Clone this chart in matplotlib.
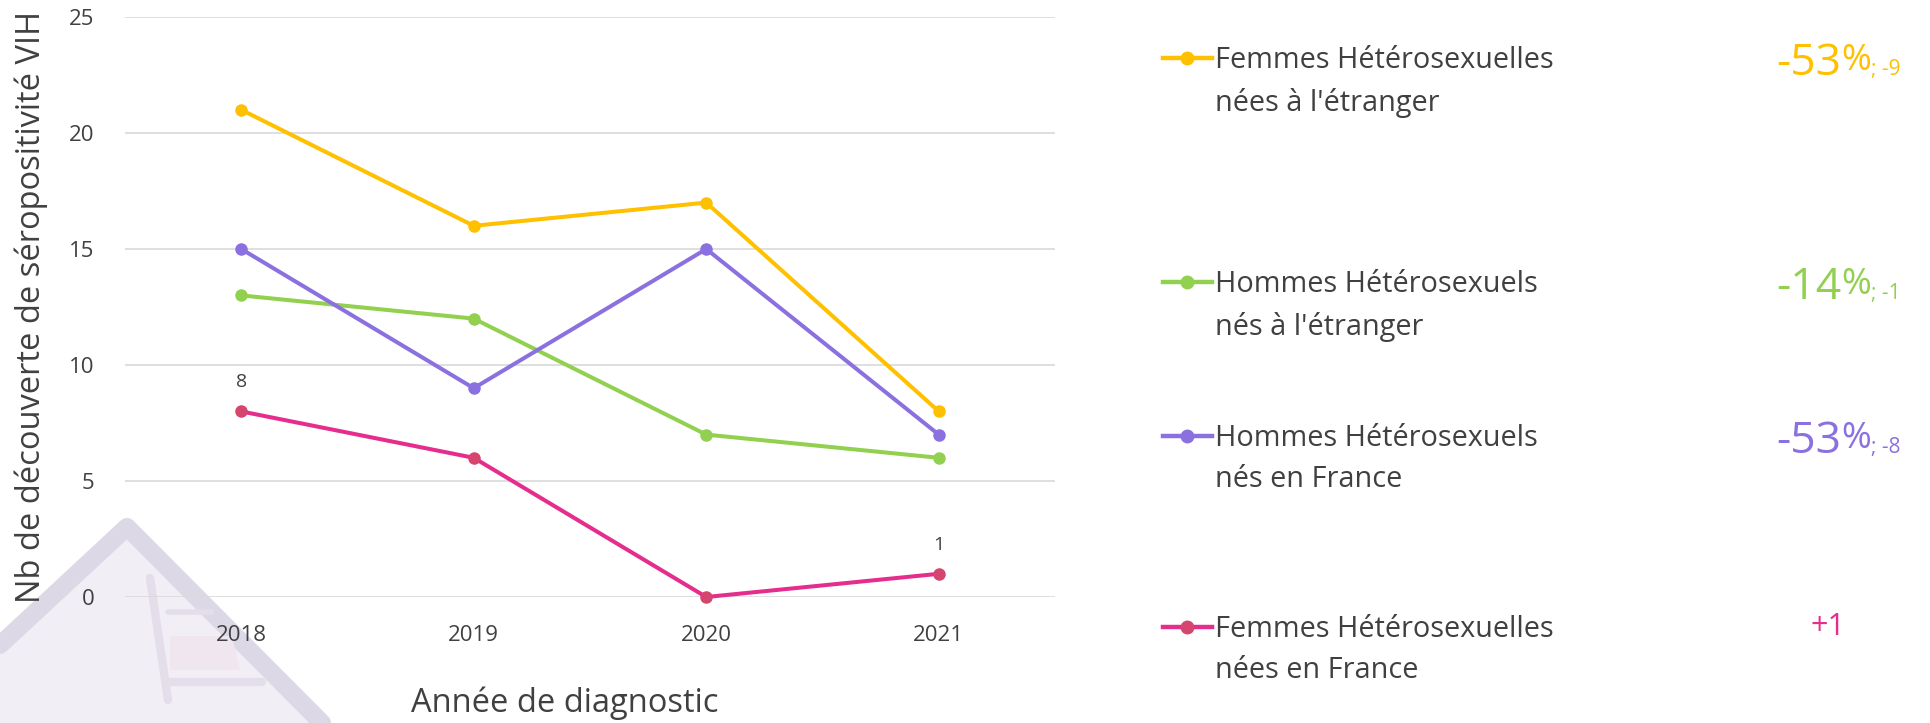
import matplotlib
matplotlib.use('Agg')
import matplotlib.pyplot as plt
from matplotlib.lines import Line2D
from matplotlib.patches import Polygon

plt.rcParams['font.family'] = ['Open Sans', 'DejaVu Sans']

# data
years = ['2018', '2019', '2020', '2021']
femmes_etranger = [21, 16, 17, 8]
hommes_etranger = [13, 12, 7, 6]
hommes_france = [15, 9, 15, 7]
femmes_france = [8, 6, 0, 1]

series_names = ["Femmes Hétérosexuelles\nnées à l'étranger",
                "Hommes Hétérosexuels\nnés à l'étranger",
                "Hommes Hétérosexuels\nnés en France",
                "Femmes Hétérosexuelles\nnées en France"]
series_values = [femmes_etranger, hommes_etranger, hommes_france, femmes_france]
line_colors = ['#FFC000', '#92D050', '#8B70E0', '#E52D8E']
marker_colors = ['#FFC000', '#92D050', '#8B70E0', '#D6456E']

# evolution 2018 -> 2021, shown right of the legend
evol_pct = ['-53', '-14', '-53', None]
evol_abs = ['-9', '-1', '-8', '+1']

labelled_points = [0, 3]   # data labels on the last series

W, H = 1930, 723
fig = plt.figure(figsize=(W / 100, H / 100), dpi=100)


def px(x, y):
    return x / W, 1 - y / H


# faded logo watermark, bottom left
fig.add_artist(Polygon([px(0, 723), px(0, 635), px(127, 520), px(330, 723)],
                       closed=True, transform=fig.transFigure,
                       facecolor='#F1EEF5', edgecolor='none', zorder=0))
for pts, lw, col in [([(0, 645), (127, 527), (322, 723)], 13, '#DDD8E6'),
                     ([(150, 578), (168, 700)], 6, '#E3DEEA'),
                     ([(168, 612), (212, 612)], 4, '#E3DEEA'),
                     ([(168, 682), (262, 682)], 6, '#E3DEEA')]:
    xs, ys = zip(*[px(*p) for p in pts])
    fig.add_artist(Line2D(xs, ys, transform=fig.transFigure, lw=lw, color=col,
                          solid_capstyle='round', solid_joinstyle='round', zorder=0))
fig.add_artist(Polygon([px(170, 636), px(232, 636), px(240, 670), px(170, 670)],
                       closed=True, transform=fig.transFigure,
                       facecolor='#F0E6F0', edgecolor='none', zorder=0))

ax = fig.add_axes([125 / W, 1 - 597 / H, 930 / W, 580 / H])
ax.set_facecolor('none')

x = list(range(len(years)))
for vals, lc, mc in zip(series_values, line_colors, marker_colors):
    ax.plot(x, vals, color=lc, lw=2.9, marker='o', ms=8,
            markerfacecolor=mc, markeredgecolor=mc, zorder=3, clip_on=False)

for i in labelled_points:
    ax.annotate(str(femmes_france[i]), (x[i], femmes_france[i]),
                xytext=(0, 21), textcoords='offset points',
                ha='center', va='center', fontsize=14, color='#404040')

ax.set_xlim(-0.5, len(years) - 0.5)
ax.set_ylim(0, 25)
ax.set_yticks(range(0, 26, 5))
ax.set_xticks(x)
ax.set_xticklabels(years)
ax.grid(axis='y', color='#D9D9D9', lw=1.2)
ax.set_axisbelow(True)
for s in ax.spines.values():
    s.set_visible(False)
ax.tick_params(axis='both', length=0, labelsize=16, colors='#404040')
ax.tick_params(axis='y', pad=22)
ax.tick_params(axis='x', pad=20)

ax.set_ylabel('Nb de découverte de séropositivité VIH', fontsize=23.5,
              color='#404040', va='center')
ax.yaxis.set_label_coords((31 - 125) / 930, 0.5)
ax.set_xlabel('Année de diagnostic', fontsize=23.5, color='#404040', va='center')
ax.xaxis.set_label_coords((565 - 125) / 930, -(703 - 597) / 580)

# legend drawn by hand, one block per row
legend_rows = [58, 282, 436, 627]
for name, lc, mc, row in zip(series_names, line_colors, marker_colors, legend_rows):
    fig.add_artist(Line2D([1163 / W, 1212 / W], [1 - row / H] * 2, lw=3.2,
                          color=lc, transform=fig.transFigure))
    fig.add_artist(Line2D([1187 / W], [1 - row / H], marker='o', ms=9,
                          color=mc, lw=0, transform=fig.transFigure))
    fig.text(1215 / W, 1 - (row - 12) / H, name, fontsize=20.8, color='#404040',
             va='top', ha='left', linespacing=1.56)

for pct, ab, lc, row in zip(evol_pct, evol_abs, line_colors, legend_rows):
    if pct is None:
        fig.text(1828 / W, 1 - row / H, ab, fontsize=22, color=lc,
                 ha='center', va='center')
        continue
    big = fig.text(1776 / W, 1 - (row + 17) / H, pct, fontsize=32, color=lc,
                   ha='left', va='baseline')
    sign = ax.annotate('%', xy=(1, 0), xycoords=big, xytext=(0, 5),
                       textcoords='offset points', fontsize=26, color=lc,
                       ha='left', va='bottom')
    ax.annotate('; ' + ab, xy=(1, 0), xycoords=(sign, big), xytext=(0, 4),
                textcoords='offset points', fontsize=15, color=lc,
                ha='left', va='bottom')

fig.savefig('out.png', dpi=100)
